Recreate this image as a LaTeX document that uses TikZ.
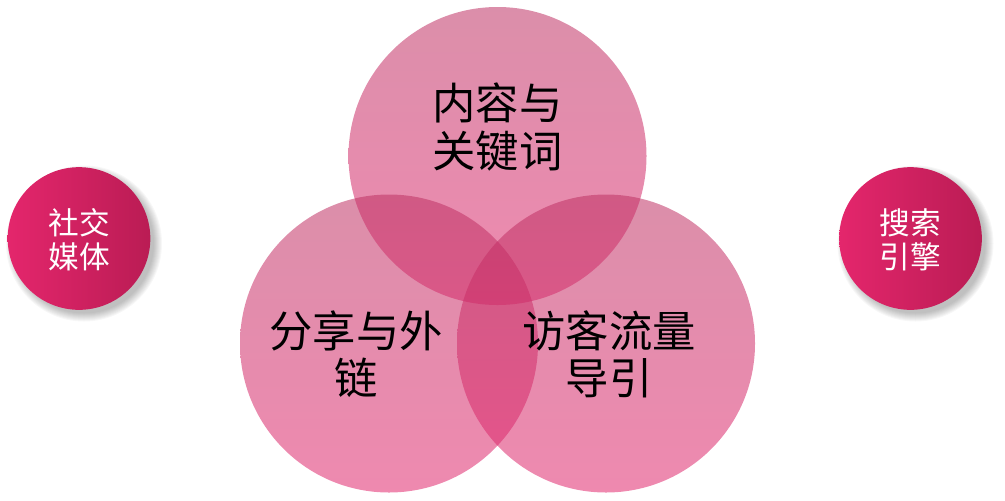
\documentclass[tikz,border=0pt]{standalone}
\usepackage{fontspec}
\newfontfamily\cjk{Noto Sans CJK SC}
\definecolor{vennmauve}{RGB}{190,50,100}
\definecolor{vennpink}{RGB}{225,40,110}
\definecolor{dotleft}{RGB}{228,38,108}
\definecolor{dotright}{RGB}{186,28,84}
\usepackage{tikz}
\usetikzlibrary{positioning, calc, shapes}

\begin{document}
\begin{tikzpicture}[x=0.75pt, y=-0.75pt,
    venn/.style={circle, minimum size=223.5pt, inner sep=0pt,
      top color=vennmauve, bottom color=vennpink, opacity=0.55},
    dot/.style={circle, minimum size=107pt, inner sep=0pt,
      left color=dotleft, right color=dotright},
    bigtext/.style={align=center, text=black,
      font=\cjk\fontsize{32.5}{35.5}\selectfont},
    dottext/.style={align=center, text=white,
      font=\cjk\fontsize{23}{25.5}\selectfont}]
        \useasboundingbox (0,0) rectangle (1005,500);
        % Three overlapping circles
        \node[venn] (content) at (497.5,156) {};
        \node[venn] (share) at (389,343.5) {};
        \node[venn] (visit) at (606,343.5) {};
        % Soft shadows of the side circles
        \foreach \k in {1,...,9} {
          \fill[black, opacity=0.03] ($(79,238.5)+(5,5)$) circle ({72+7-\k});
          \fill[black, opacity=0.03] ($(910.5,238.5)+(5,5)$) circle ({72+7-\k});
        }
        % Side circles
        \node[dot] (social) at (79,238.5) {};
        \node[dot] (search) at (910.5,238.5) {};
        % Labels
        \node[bigtext] (contentlbl) at ($(content)+(0,-29)$) {内容与\\关键词};
        \node[bigtext] (sharelbl) at ($(share)+(-33,10.5)$) {分享与外\\链};
        \node[bigtext] (visitlbl) at ($(visit)+(3,10.5)$) {访客流量\\导引};
        \node[dottext] (sociallbl) at ($(social)+(0,1.5)$) {社交\\媒体};
        \node[dottext] (searchlbl) at ($(search)+(0,1.5)$) {搜索\\引擎};
      \end{tikzpicture}
\end{document}
